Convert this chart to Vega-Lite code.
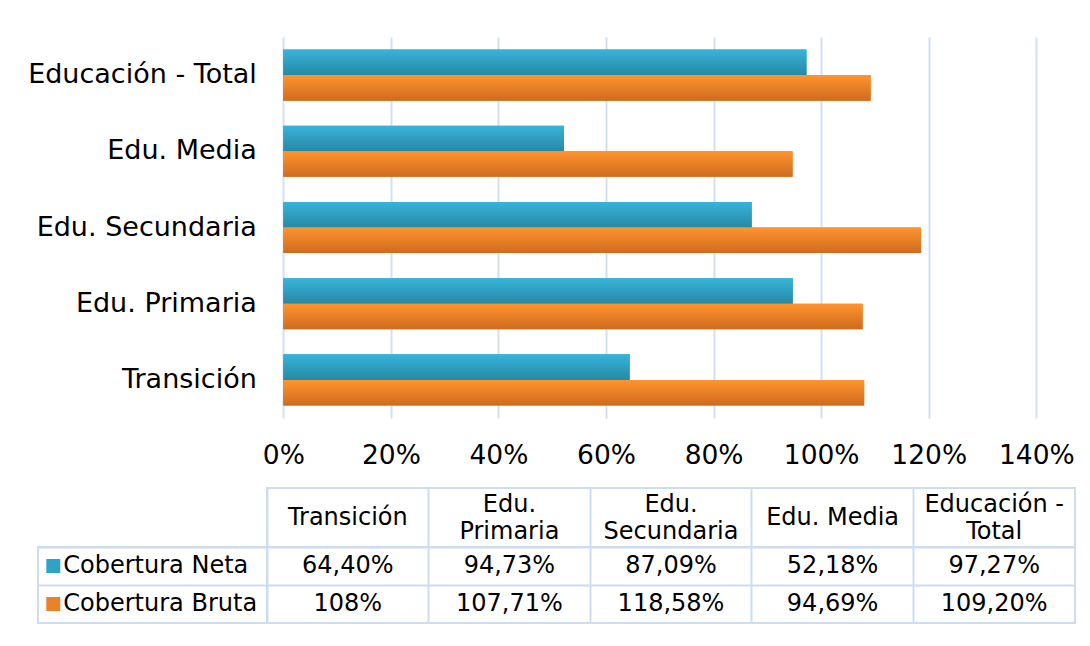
{
  "$schema": "https://vega.github.io/schema/vega-lite/v6.json",
  "background": "white",
  "autosize": {"type": "pad"},
  "padding": {"left": 27, "top": 37, "right": 5, "bottom": 5},
  "config": {
    "font": "DejaVu Sans",
    "view": {"stroke": "#cddcf0", "strokeWidth": 2},
    "axis": {"labelFont": "DejaVu Sans", "labelColor": "#000000"},
    "legend": {"labelFont": "DejaVu Sans", "labelColor": "#000000"},
    "text": {"font": "DejaVu Sans", "color": "#000000"}
  },
  "datasets": {
    "cov": [
      {"cat": "Transición", "series": "Cobertura Neta", "value": 0.644, "label": "64,40%"},
      {"cat": "Transición", "series": "Cobertura Bruta", "value": 1.08, "label": "108%"},
      {"cat": "Edu. Primaria", "series": "Cobertura Neta", "value": 0.9473, "label": "94,73%"},
      {"cat": "Edu. Primaria", "series": "Cobertura Bruta", "value": 1.0771, "label": "107,71%"},
      {"cat": "Edu. Secundaria", "series": "Cobertura Neta", "value": 0.8709, "label": "87,09%"},
      {"cat": "Edu. Secundaria", "series": "Cobertura Bruta", "value": 1.1858, "label": "118,58%"},
      {"cat": "Edu. Media", "series": "Cobertura Neta", "value": 0.5218, "label": "52,18%"},
      {"cat": "Edu. Media", "series": "Cobertura Bruta", "value": 0.9469, "label": "94,69%"},
      {"cat": "Educación - Total", "series": "Cobertura Neta", "value": 0.9727, "label": "97,27%"},
      {"cat": "Educación - Total", "series": "Cobertura Bruta", "value": 1.092, "label": "109,20%"}
    ]
  },
  "columns": 2,
  "align": "none",
  "bounds": "flush",
  "spacing": {"row": 0, "column": 0},
  "concat": [
    {"width": 229, "height": 381, "data": {"values": []}, "mark": "point", "view": {"stroke": null}},
    {
      "width": 769.3,
      "height": 381,
      "data": {"name": "cov"},
      "view": {"stroke": null},
      "encoding": {
        "y": {
          "field": "cat", "type": "nominal",
          "sort": ["Educación - Total", "Edu. Media", "Edu. Secundaria", "Edu. Primaria", "Transición"],
          "scale": {"paddingInner": 0.33, "paddingOuter": 0.165},
          "axis": {"title": null, "domain": false, "ticks": false, "labelFontSize": 27, "labelPadding": 10.7, "labelLimit": 400}
        },
        "yOffset": {
          "field": "series", "type": "nominal",
          "sort": ["Cobertura Neta", "Cobertura Bruta"],
          "scale": {"paddingInner": 0, "paddingOuter": 0}
        },
        "x": {
          "field": "value", "type": "quantitative",
          "scale": {"domain": [-0.0303, 1.4], "nice": false, "zero": false},
          "axis": {"title": null, "values": [0, 0.2, 0.4, 0.6, 0.8, 1, 1.2, 1.4], "format": ".0%", "domain": false, "ticks": false, "labelPadding": 24, "labelFontSize": 26.5, "labelFlush": false, "labelOverlap": false, "gridColor": "#d3e0f1", "gridWidth": 2}
        }
      },
      "layer": [
        {
          "mark": {"type": "bar"},
          "encoding": {
            "color": {
              "field": "series", "type": "nominal",
              "scale": {"domain": ["Cobertura Neta", "Cobertura Bruta"], "range": ["#2fa3c6", "#ec8228"]},
              "legend": {"orient": "none", "legendX": 3.3, "legendY": 517, "title": null, "padding": 0, "symbolType": "square", "symbolSize": 196, "symbolStrokeWidth": 0, "symbolOpacity": 1, "labelFontSize": 24, "labelOffset": -2, "rowPadding": 14, "labelLimit": 400}
            }
          }
        },
        {
          "transform": [{"filter": "datum.series == 'Cobertura Neta'"}],
          "mark": {"type": "bar", "fill": {"gradient": "linear", "x1": 0, "y1": 0, "x2": 0, "y2": 1, "stops": [{"offset": 0, "color": "#38b4da"}, {"offset": 1, "color": "#2688a5"}]}}
        },
        {
          "transform": [{"filter": "datum.series == 'Cobertura Bruta'"}],
          "mark": {"type": "bar", "fill": {"gradient": "linear", "x1": 0, "y1": 0, "x2": 0, "y2": 1, "stops": [{"offset": 0, "color": "#ff942e"}, {"offset": 1, "color": "#cf6b1f"}]}}
        }
      ]
    },
    {"width": 229, "height": 70, "data": {"values": []}, "mark": "point", "view": {"stroke": null}},
    {"width": 808, "height": 70, "data": {"values": []}, "mark": "point", "view": {"stroke": null}},
    {"width": 229, "height": 59, "data": {"values": []}, "mark": "point", "view": {"stroke": null}},
    {
      "width": 808,
      "height": 59,
      "data": {"name": "cov"},
      "transform": [{"filter": "datum.series == 'Cobertura Neta'"}],
      "mark": {"type": "text", "text": ""},
      "encoding": {
        "x": {
          "field": "cat", "type": "nominal",
          "sort": ["Transición", "Edu. Primaria", "Edu. Secundaria", "Edu. Media", "Educación - Total"],
          "scale": {"type": "band", "paddingInner": 0, "paddingOuter": 0},
          "axis": {
            "title": null, "orient": "bottom", "ticks": false, "domain": false, "grid": true, "bandPosition": 0, "gridColor": "#cddcf0", "gridWidth": 2,
            "labels": true, "labelAngle": 0, "labelFontSize": 24, "labelBaseline": "middle", "labelAlign": "center", "labelLineHeight": 27,
            "labelPadding": {"condition": {"test": "indexof(['Edu. Primaria', 'Edu. Secundaria', 'Educación - Total'], datum.value) >= 0", "value": -43}, "value": -29.5},
            "labelOverlap": false, "labelFlush": false, "labelBound": false, "labelLimit": 400,
            "labelExpr": "datum.value == 'Edu. Primaria' ? ['Edu.', 'Primaria'] : datum.value == 'Edu. Secundaria' ? ['Edu.', 'Secundaria'] : datum.value == 'Educación - Total' ? ['Educación -', 'Total'] : datum.value"
          }
        }
      }
    },
    {
      "width": 229,
      "height": 76,
      "data": {"name": "cov"},
      "mark": {"type": "text", "text": ""},
      "encoding": {
        "y": {
          "field": "series", "type": "nominal",
          "sort": ["Cobertura Neta", "Cobertura Bruta"],
          "scale": {"type": "band", "paddingInner": 0, "paddingOuter": 0},
          "axis": {"title": null, "labels": false, "ticks": false, "domain": false, "grid": true, "bandPosition": 0, "gridColor": "#cddcf0", "gridWidth": 2}
        }
      }
    },
    {
      "width": 808,
      "height": 76,
      "data": {"name": "cov"},
      "mark": {"type": "text", "fontSize": 24, "baseline": "middle", "align": "center"},
      "encoding": {
        "x": {
          "field": "cat", "type": "nominal",
          "sort": ["Transición", "Edu. Primaria", "Edu. Secundaria", "Edu. Media", "Educación - Total"],
          "scale": {"type": "band", "paddingInner": 0, "paddingOuter": 0},
          "axis": {"title": null, "labels": false, "ticks": false, "domain": false, "grid": true, "bandPosition": 0, "gridColor": "#cddcf0", "gridWidth": 2}
        },
        "y": {
          "field": "series", "type": "nominal",
          "sort": ["Cobertura Neta", "Cobertura Bruta"],
          "scale": {"type": "band", "paddingInner": 0, "paddingOuter": 0},
          "axis": {"title": null, "labels": false, "ticks": false, "domain": false, "grid": true, "bandPosition": 0, "gridColor": "#cddcf0", "gridWidth": 2}
        },
        "text": {"field": "label"}
      }
    }
  ]
}
